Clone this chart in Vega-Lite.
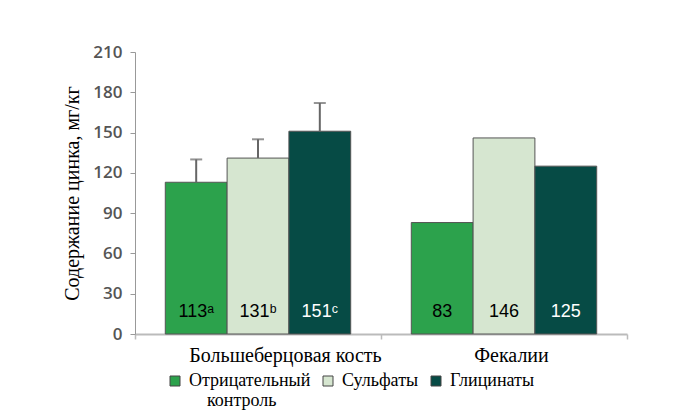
{
  "$schema": "https://vega.github.io/schema/vega-lite/v6.json",
  "autosize": {"type": "none"},
  "padding": {"left": 135, "top": 52, "right": 53, "bottom": 80},
  "width": 492,
  "height": 282,
  "background": "white",
  "config": {
    "view": {"stroke": null},
    "legend": {"labelFont": "Liberation Serif", "labelFontSize": 18, "labelColor": "#000000"}
  },
  "data": {
    "values": [
      {"group": "Большеберцовая кость", "series": "Отрицательный контроль", "value": 113, "upper": 130, "label": "113ᵃ"},
      {"group": "Большеберцовая кость", "series": "Сульфаты", "value": 131, "upper": 145, "label": "131ᵇ"},
      {"group": "Большеберцовая кость", "series": "Глицинаты", "value": 151, "upper": 172, "label": "151ᶜ"},
      {"group": "Фекалии", "series": "Отрицательный контроль", "value": 83, "upper": null, "label": "83"},
      {"group": "Фекалии", "series": "Сульфаты", "value": 146, "upper": null, "label": "146"},
      {"group": "Фекалии", "series": "Глицинаты", "value": 125, "upper": null, "label": "125"}
    ]
  },
  "encoding": {
    "x": {
      "field": "group", "type": "nominal", "sort": null,
      "scale": {"paddingInner": 0, "paddingOuter": 0},
      "axis": {
        "title": null, "labelAngle": 0, "tickBand": "extent",
        "domainColor": "#bbbbbb", "domainWidth": 2,
        "tickColor": "#bbbbbb", "tickWidth": 1.5, "tickSize": 5,
        "labelFont": "Liberation Serif", "labelFontSize": 20, "labelColor": "#000000",
        "labelPadding": 6, "labelLimit": 400,
        "labelOffset": {"condition": {"test": "datum.value === 'Фекалии'", "value": 7}, "value": 27}
      }
    },
    "xOffset": {
      "field": "series", "type": "nominal", "sort": null,
      "scale": {"domain": ["Отрицательный контроль", "Сульфаты", "Глицинаты"], "paddingInner": 0, "paddingOuter": 0.49}
    }
  },
  "layer": [
    {
      "mark": {"type": "bar", "stroke": "#555555", "strokeWidth": 1},
      "encoding": {
        "y": {
          "field": "value", "type": "quantitative",
          "scale": {"domain": [0, 210], "nice": false},
          "axis": {
            "title": "Содержание цинка, мг/кг",
            "titleFont": "Liberation Serif", "titleFontSize": 20, "titleFontWeight": "normal", "titleColor": "#000000",
            "titlePadding": 10,
            "values": [0, 30, 60, 90, 120, 150, 180, 210],
            "grid": false,
            "domainColor": "#999999", "tickColor": "#999999", "tickSize": 5,
            "labelFont": "Open Sans", "labelFontSize": 17, "labelFontWeight": 600, "labelColor": "#555555",
            "labelPadding": 8
          }
        },
        "color": {
          "field": "series", "type": "nominal", "sort": null,
          "scale": {
            "domain": ["Отрицательный контроль", "Сульфаты", "Глицинаты"],
            "range": ["#2ca24c", "#d6e6d0", "#064b45"]
          },
          "legend": {
            "title": null,
            "orient": "none",
            "direction": "horizontal",
            "legendX": 31,
            "legendY": 320,
            "padding": 0,
            "symbolType": "square",
            "symbolSize": 100,
            "symbolStrokeColor": "#444444",
            "symbolStrokeWidth": 1,
            "labelFont": "Liberation Serif",
            "labelFontSize": 18,
            "labelColor": "#000000",
            "labelOffset": 5,
            "columnPadding": 8,
            "labelExpr": "datum.value === 'Отрицательный контроль' ? ['Отрицательный', '\u200b\u00a0\u00a0\u00a0\u00a0контроль'] : [datum.value, '']"
          }
        }
      }
    },
    {
      "mark": {"type": "rule", "color": "#666666", "strokeWidth": 2},
      "encoding": {
        "y": {"field": "value", "type": "quantitative"},
        "y2": {"field": "upper"}
      }
    },
    {
      "mark": {"type": "tick", "color": "#666666", "thickness": 2, "size": 12},
      "encoding": {
        "y": {"field": "upper", "type": "quantitative"}
      }
    },
    {
      "mark": {"type": "text", "font": "Liberation Sans", "fontSize": 18, "align": "center", "baseline": "alphabetic", "dy": -17},
      "encoding": {
        "y": {"datum": 0, "type": "quantitative"},
        "text": {"field": "label"},
        "color": {"condition": {"test": "datum.series === 'Глицинаты'", "value": "#ffffff"}, "value": "#000000"}
      }
    }
  ]
}
